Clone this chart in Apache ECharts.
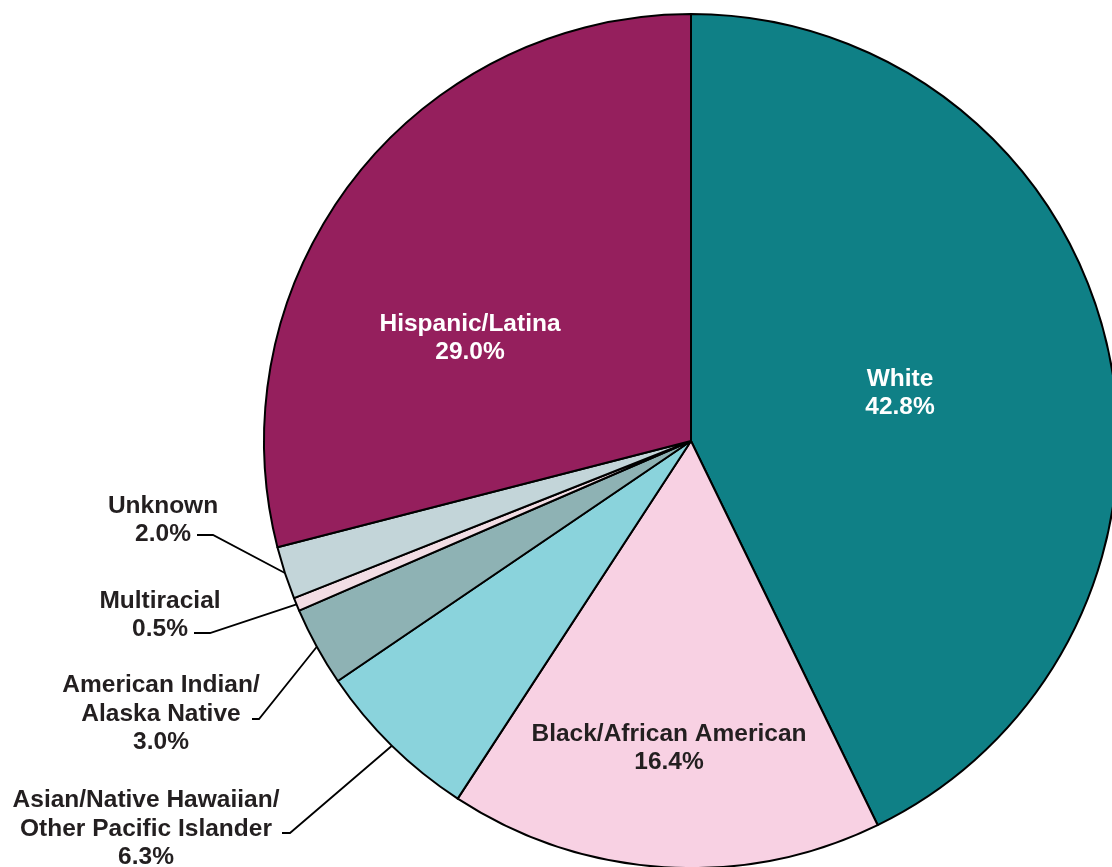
<!DOCTYPE html>
<html>
<head>
<meta charset="utf-8">
<script src="https://cdn.jsdelivr.net/npm/echarts@6/dist/echarts.min.js"></script>
<style>
  html, body { margin: 0; padding: 0; background: #ffffff; }
  #chart { width: 1112px; height: 867px; }
</style>
</head>
<body>
<div id="chart"></div>
<script>
// Race/ethnicity breakdown, clockwise from 12 o'clock
const categories = [
  'White',
  'Black/African American',
  'Asian/Native Hawaiian/\nOther Pacific Islander',
  'American Indian/\nAlaska Native',
  'Multiracial',
  'Unknown',
  'Hispanic/Latina'
];
const shares = [42.8, 16.4, 6.3, 3.0, 0.5, 2.0, 29.0];
const sliceColors = ['#0f8086', '#f8d1e3', '#8ad3dc', '#8eb2b4', '#f2dde4', '#c3d5d9', '#951f5d'];
const labelColors = ['#ffffff', '#231f20', '#231f20', '#231f20', '#231f20', '#231f20', '#ffffff'];
const labelInside = [true, true, false, false, false, false, true];

// Where each label block sits (centre of the text block); outside labels
// also get a leader elbow and end point next to their text.
const labelPlacement = {
  0: { x: 900, y: 393 },
  1: { x: 669, y: 748 },
  6: { x: 470, y: 338 },
  5: { x: 163, y: 520, elbow: [213, 535], end: [197, 535] },
  4: { x: 160, y: 615, elbow: [210, 633], end: [194, 633] },
  3: { x: 161, y: 714, elbow: [259, 719], end: [252, 719] },
  2: { x: 146, y: 829, elbow: [290, 833], end: [282, 833] }
};

const FONT = "'Liberation Sans', Arial, Helvetica, sans-serif";

const pieData = categories.map((name, i) => ({
  name: name,
  value: shares[i],
  itemStyle: { color: sliceColors[i] },
  label: {
    position: labelInside[i] ? 'inside' : 'outside',
    color: labelColors[i]
  },
  labelLine: { show: !labelInside[i] }
}));

const chart = echarts.init(document.getElementById('chart'), null, { renderer: 'canvas' });

chart.setOption({
  backgroundColor: '#ffffff',
  animation: false,
  series: [{
    type: 'pie',
    center: [691, 441],
    radius: 427,
    startAngle: 90,
    clockwise: true,
    avoidLabelOverlap: false,
    silent: true,
    emphasis: { disabled: true, scale: false },
    itemStyle: { borderColor: '#000000', borderWidth: 2 },
    label: {
      show: true,
      fontFamily: FONT,
      fontWeight: 'bold',
      fontSize: 24.5,
      lineHeight: 28.5,
      align: 'center',
      formatter: p => p.name + '\n' + p.value.toFixed(1) + '%'
    },
    labelLine: {
      show: true,
      length: 20,
      length2: 10,
      lineStyle: { color: '#000000', width: 1.8 }
    },
    labelLayout: function (params) {
      const place = labelPlacement[params.dataIndex];
      if (!place) return {};
      const out = {
        x: place.x,
        y: place.y,
        align: 'center',
        verticalAlign: 'middle'
      };
      if (place.elbow && params.labelLinePoints) {
        out.labelLinePoints = [
          params.labelLinePoints[0],
          place.elbow,
          place.end
        ];
      }
      return out;
    },
    data: pieData
  }]
});
</script>
</body>
</html>
